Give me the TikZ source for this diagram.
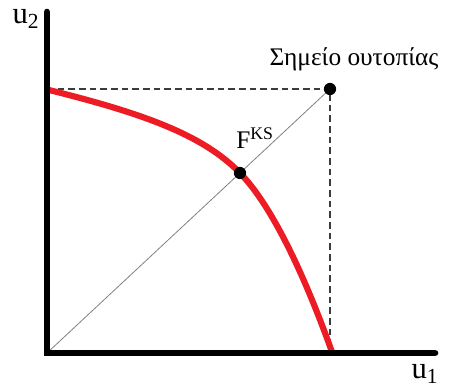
\documentclass[tikz,border=0pt]{standalone}
\usepackage{fontspec}
\setmainfont{Liberation Serif}
\usetikzlibrary{calc}
\definecolor{frontred}{RGB}{237,28,36}
\definecolor{dashgray}{RGB}{60,60,60}

\begin{document}
\begin{tikzpicture}[x=0.75pt, y=0.75pt,
    axislbl/.style={font=\fontsize{23}{23}\selectfont, inner sep=0pt},
    ptlbl/.style={font=\fontsize{19}{19}\selectfont, inner sep=0pt}]
    \useasboundingbox (0,0) rectangle (450,387);
    % basic points
    \coordinate (O) at (47,34);
    \coordinate (Ytop) at (47,375);
    \coordinate (Xend) at (435,34);
    \coordinate (U) at (330,298);
    \coordinate (KS) at (240,214);
    \coordinate (A) at (49,297);
    \coordinate (B) at (332,35);
    % dashed lines towards the utopia point
    \draw[dashgray, line width=1pt, dash pattern=on 5pt off 3pt] (O|-U) -- (U) -- (U|-O);
    % diagonal
    \draw[gray, line width=0.6pt] (O) -- (U);
    % Pareto frontier
    \draw[frontred, line width=4.6pt, line cap=round]
        (A) .. controls (150,272) and (205,250) .. (KS)
            .. controls (275,178) and (308,102) .. (B);
    % axes
    \draw[line width=5pt, line cap=round] (Ytop) -- (O) -- (Xend);
    % points
    \foreach \p in {U, KS}
        \fill (\p) circle (4.6pt);
    % labels
    \node[axislbl] (u2) at (26,368) {u\textsubscript{2}};
    \node[axislbl] (u1) at (425,13) {u\textsubscript{1}};
    \node[ptlbl, anchor=base] (utop) at (354,322) {Σημείο ουτοπίας};
    \node[ptlbl, anchor=base west] (fks) at (236,239) {F\textsuperscript{KS}};
\end{tikzpicture}
\end{document}
